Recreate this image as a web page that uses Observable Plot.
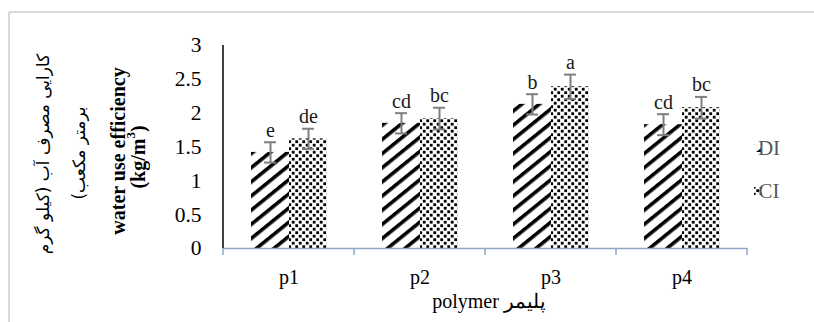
<!DOCTYPE html>
<html>
<head>
<meta charset="utf-8">
<script src="https://cdn.jsdelivr.net/npm/d3@7"></script>
<script src="https://cdn.jsdelivr.net/npm/@observablehq/plot@0.6"></script>
<style>
  html, body { margin: 0; padding: 0; background: white; }
  #chart { width: 814px; height: 322px; }
  svg text { font-family: "Liberation Serif", serif; }
  svg text.fa { font-family: "DejaVu Sans", sans-serif; }
</style>
</head>
<body>
<div id="chart"></div>
<script>
const categories = ["p1", "p2", "p3", "p4"];
const seriesNames = ["DI", "CI"];
const diValues = [1.42, 1.85, 2.13, 1.83];
const ciValues = [1.62, 1.92, 2.39, 2.08];
const diErrors = [0.15, 0.15, 0.15, 0.155];
const ciErrors = [0.15, 0.16, 0.18, 0.16];
const diLetters = ["e", "cd", "b", "cd"];
const ciLetters = ["de", "bc", "a", "bc"];
const yTicks = [0, 0.5, 1, 1.5, 2, 2.5, 3];
const yTitleFa1 = "کارایی مصرف آب (کیلو گرم";
const yTitleFa2 = "برمتر مکعب)";
const yTitleEn1 = "water use efficiency";
const yTitleEn2a = "(kg/m";
const yTitleEn2sup = "3";
const yTitleEn2b = ")";
const xTitle = "polymer پلیمر";

const rows = [];
categories.forEach((c, i) => {
  rows.push({polymer: c, series: "DI", value: diValues[i], err: diErrors[i], letter: diLetters[i]});
  rows.push({polymer: c, series: "CI", value: ciValues[i], err: ciErrors[i], letter: ciLetters[i]});
});

const serif = "Liberation Serif, serif";
const errColor = "#7f7f7f";
const axisBlue = "#8fa7c9";
const FS = 20;

const plot = Plot.plot({
  width: 814,
  height: 322,
  marginLeft: 222,
  marginRight: 67,
  marginTop: 45,
  marginBottom: 74,
  facet: {data: rows, x: "polymer"},
  fx: {domain: categories, paddingInner: 0, paddingOuter: 0, label: null, axis: "bottom", tickSize: 0, tickPadding: 21},
  x: {domain: seriesNames, axis: null, paddingInner: 0, paddingOuter: 0.72},
  y: {domain: [0, 3], ticks: yTicks, tickSize: 0, tickPadding: 22, label: null, tickFormat: d => String(d)},
  style: {fontFamily: serif, fontSize: FS + "px", color: "black", background: "white", overflow: "visible"},
  marks: [
    Plot.barY(rows, {filter: d => d.series === "DI", x: "series", y: "value", fill: "url(#stripes)"}),
    Plot.barY(rows, {filter: d => d.series === "CI", x: "series", y: "value", fill: "url(#dots)"}),
    Plot.ruleY([0], {stroke: axisBlue, strokeWidth: 1.5}),
    Plot.ruleX(rows, {x: "series", y1: d => d.value - d.err, y2: d => d.value + d.err, stroke: errColor, strokeWidth: 2}),
    Plot.tickY(rows, {x: "series", y: d => d.value + d.err, insetLeft: 13, insetRight: 13, stroke: errColor, strokeWidth: 2}),
    Plot.tickY(rows, {x: "series", y: d => d.value - d.err, insetLeft: 13, insetRight: 13, stroke: errColor, strokeWidth: 2}),
    Plot.text(rows, {x: "series", y: d => d.value + d.err, text: "letter", dy: -12, fill: "#1a1a1a", fontSize: FS})
  ]
});

document.getElementById("chart").appendChild(plot);

const svg = d3.select(plot);
// slightly larger y tick labels, as in the reference
svg.selectAll("g[aria-label='y-axis tick label'] text").attr("font-size", 21.5);

const defs = svg.insert("defs", ":first-child");
const st = defs.append("pattern").attr("id", "stripes").attr("patternUnits", "userSpaceOnUse")
  .attr("width", 10).attr("height", 11).attr("patternTransform", "rotate(-39)");
st.append("rect").attr("width", 10).attr("height", 11).attr("fill", "white");
st.append("rect").attr("width", 10).attr("height", 3.6).attr("fill", "black");
const dt = defs.append("pattern").attr("id", "dots").attr("patternUnits", "userSpaceOnUse")
  .attr("width", 7).attr("height", 7);
dt.append("rect").attr("width", 7).attr("height", 7).attr("fill", "white");
dt.append("rect").attr("x", 0.3).attr("y", 0.3).attr("width", 2.8).attr("height", 2.8).attr("fill", "black");
dt.append("rect").attr("x", 3.8).attr("y", 3.8).attr("width", 2.8).attr("height", 2.8).attr("fill", "black");

const fx = plot.scale("fx");
const y = plot.scale("y");
const y0 = y.apply(0), y3 = y.apply(3);
const left = fx.apply(categories[0]);
const right = fx.apply(categories[categories.length - 1]) + fx.bandwidth;

const g = svg.append("g");
// chart-area border (top & left)
g.append("line").attr("x1", 9).attr("x2", 814).attr("y1", 12).attr("y2", 12).attr("stroke", "#d9d9d9").attr("stroke-width", 2);
g.append("line").attr("x1", 9).attr("x2", 9).attr("y1", 12).attr("y2", 322).attr("stroke", "#d9d9d9").attr("stroke-width", 2);
// y axis line
g.append("line").attr("x1", left).attr("x2", left).attr("y1", y3).attr("y2", y0).attr("stroke", "black").attr("stroke-width", 1.5);
// category boundary ticks
const bounds = categories.map(c => fx.apply(c)).concat([right]);
bounds.forEach(bx => {
  g.append("line").attr("x1", bx).attr("x2", bx).attr("y1", y0).attr("y2", y0 + 7).attr("stroke", axisBlue).attr("stroke-width", 1.5);
});
// x title
g.append("text").attr("x", (left + right) / 2 + 4).attr("y", y0 + 60).attr("text-anchor", "middle")
  .attr("font-size", FS).attr("fill", "black").text(xTitle);
// y titles
function vtext(x, cy, opts) {
  return g.append("text").attr("transform", `translate(${x},${cy}) rotate(-90)`)
    .attr("text-anchor", "middle").attr("dominant-baseline", "central")
    .attr("font-size", opts.size || FS)
    .attr("font-weight", opts.weight || "normal").attr("fill", "black");
}
vtext(43, 154, {size: 17}).attr("class", "fa").attr("direction", "rtl").text(yTitleFa1);
vtext(79, 153, {size: 17}).attr("class", "fa").attr("direction", "rtl").text(yTitleFa2);
vtext(118, 151, {weight: "bold", size: 20}).text(yTitleEn1);
const t2 = vtext(138, 157, {weight: "bold", size: 20});
t2.append("tspan").text(yTitleEn2a);
t2.append("tspan").attr("baseline-shift", "super").attr("font-size", 13).text(yTitleEn2sup);
t2.append("tspan").text(yTitleEn2b);
// legend
const legY = [148, 191];
const pats = ["url(#stripes)", "url(#dots)"];
seriesNames.forEach((s, i) => {
  g.append("rect").attr("x", 754).attr("y", legY[i] - 4).attr("width", 8).attr("height", 8).attr("fill", pats[i]);
  g.append("text").attr("x", 769).attr("y", legY[i]).attr("dominant-baseline", "central")
    .attr("font-size", 21).attr("fill", "#595959").text(s);
});
</script>
</body>
</html>
